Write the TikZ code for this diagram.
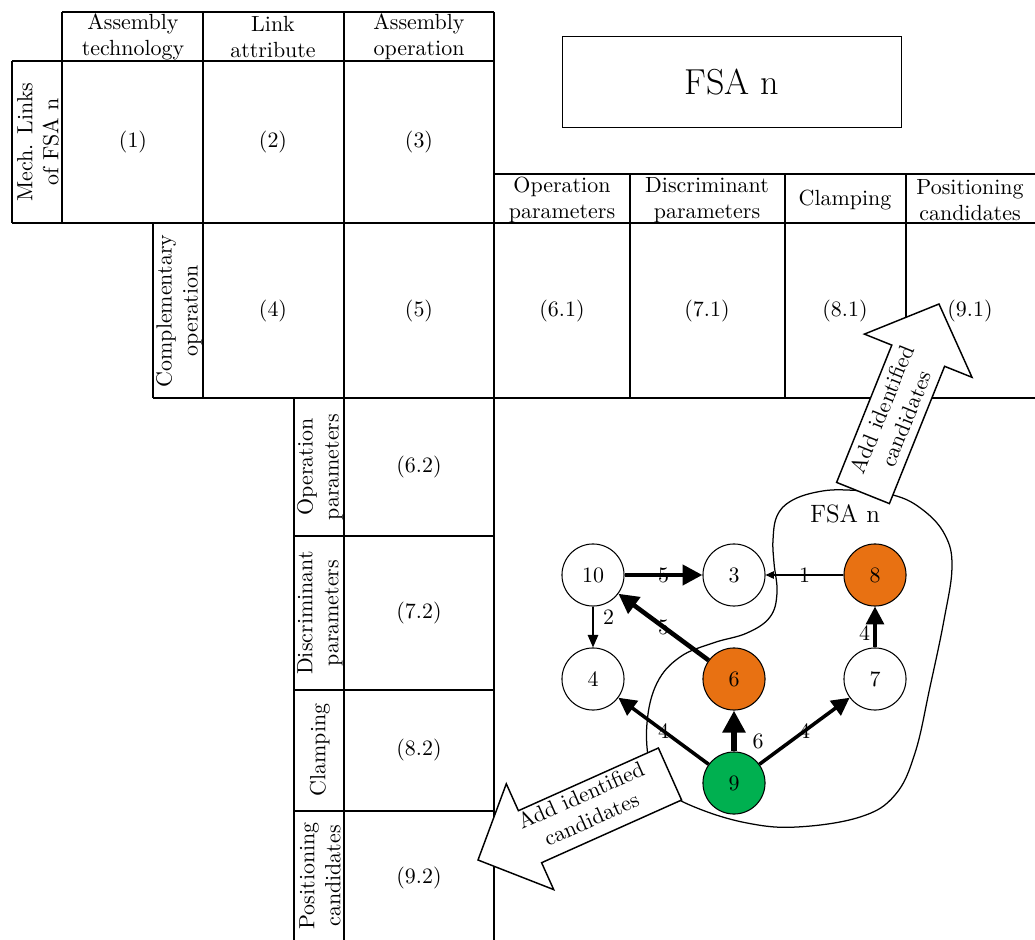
\documentclass[tikz,border=0pt]{standalone}
\usetikzlibrary{arrows.meta}
\definecolor{fsaorange}{RGB}{232,113,18}
\definecolor{fsagreen}{RGB}{0,176,80}
\begin{document}
\begin{tikzpicture}[x=0.4785pt, y=-0.4785pt,
  every node/.style={font=\fontsize{10.5}{12.4}\selectfont},
  tline/.style={line width=0.7pt},
  cell/.style={align=center, inner sep=0pt},
  vcell/.style={cell, rotate=90},
  gnode/.style={circle, draw, line width=0.5pt, minimum size=29.7pt, inner sep=0pt},
  onode/.style={gnode, fill=fsaorange},
  grnode/.style={gnode, fill=fsagreen},
  elabel/.style={inner sep=1pt},
  wone/.style={line width=0.5pt, -{Triangle[length=4pt,width=3.6pt]}},
  wtwo/.style={line width=0.7pt, -{Triangle[length=6pt,width=5pt]}},
  wfour/.style={line width=1.7pt, -{Triangle[length=8.5pt,width=8.5pt]}},
  wfive/.style={line width=2.2pt, -{Triangle[length=9.5pt,width=9.5pt]}},
  wsix/.style={line width=2.8pt, -{Triangle[length=10.5pt,width=10.5pt]}},
  bigarrow/.style={draw, fill=white, line width=0.7pt, line join=miter},
  blob/.style={line width=0.6pt}
]
\useasboundingbox (0,0) rectangle (1035,940);

% ---- table lines ----
\draw[tline] (62,12) -- (494,12);
\draw[tline] (12,61) -- (494,61);
\draw[tline] (494,174) -- (1035,174);
\draw[tline] (12,223) -- (1035,223);
\draw[tline] (153,398) -- (1035,398);
\draw[tline] (294,536) -- (494,536);
\draw[tline] (294,690) -- (494,690);
\draw[tline] (294,811) -- (494,811);
\draw[tline] (12,61) -- (12,223);
\draw[tline] (62,12) -- (62,223);
\draw[tline] (203,12) -- (203,398);
\draw[tline] (344,12) -- (344,940);
\draw[tline] (494,12) -- (494,940);
\draw[tline] (153,223) -- (153,398);
\draw[tline] (294,398) -- (294,940);
\draw[tline] (630,174) -- (630,398);
\draw[tline] (785,174) -- (785,398);
\draw[tline] (906,174) -- (906,398);

% ---- header texts ----
\node[cell] (hAT) at (133,37) {Assembly\\technology};
\node[cell] (hLA) at (273,37) {Link\\attribute};
\node[cell] (hAO) at (419,37) {Assembly\\operation};
\node[vcell] (hML) at (38,142) {Mech. Links\\of FSA n};
\node[cell] (c1) at (133,142) {(1)};
\node[cell] (c2) at (273,142) {(2)};
\node[cell] (c3) at (419,142) {(3)};

\node[draw, line width=0.7pt, minimum width=162pt, minimum height=43.5pt, font=\LARGE] (fsabox) at (732,82) {FSA n};

\node[cell] (hOP) at (562,200) {Operation\\parameters};
\node[cell] (hDP) at (707,200) {Discriminant\\parameters};
\node[cell] (hCL) at (845,200) {Clamping};
\node[cell] (hPC) at (970,200) {Positioning\\candidates};

\node[vcell] (hCO) at (179,311) {Complementary\\operation};
\node[cell] (c4) at (273,311) {(4)};
\node[cell] (c5) at (419,311) {(5)};
\node[cell] (c61) at (562,311) {(6.1)};
\node[cell] (c71) at (707,311) {(7.1)};
\node[cell] (c81) at (845,311) {(8.1)};
\node[cell] (c91) at (970,311) {(9.1)};

\node[vcell] (vOP) at (320,467) {Operation\\parameters};
\node[cell] (c62) at (419,467) {(6.2)};
\node[vcell] (vDP) at (320,613) {Discriminant\\parameters};
\node[cell] (c72) at (419,613) {(7.2)};
\node[vcell] (vCL) at (320,750) {Clamping};
\node[cell] (c82) at (419,750) {(8.2)};
\node[vcell] (vPC) at (320,876) {Positioning\\candidates};
\node[cell] (c92) at (419,878) {(9.2)};

% ---- FSA blob ----
\draw[blob] plot[smooth cycle, tension=0.65] coordinates {
 (773,540) (777,516) (791,501) (817,492) (847,490) (893,495) (923,510)
 (945,535) (952,567) (944,620) (930,687) (915,753) (895,795) (860,817)
 (797,827) (747,823) (697,808) (665,790) (650,765) (647,723) (657,683)
 (680,657) (713,643) (747,633) (770,617) (777,593) (774,563)};
\node[font=\large] (blobname) at (845,514) {FSA n};

% ---- graph ----
\node[gnode] (n10) at (593,575) {10};
\node[gnode] (n3) at (734,575) {3};
\node[onode] (n8) at (875,575) {8};
\node[gnode] (n4) at (593,679) {4};
\node[onode] (n6) at (734,679) {6};
\node[gnode] (n7) at (875,679) {7};
\node[grnode] (n9) at (734,783) {9};

\draw[wfive] (n10) -- node[elabel] {5} (n3);
\draw[wone] (n8) -- node[elabel] {1} (n3);
\draw[wtwo] (n10) -- node[elabel, right, pos=0.27, xshift=3.5pt] {2} (n4);
\draw[wfive] (n6) -- node[elabel] {5} (n10);
\draw[wfour] (n9) -- node[elabel] {4} (n4);
\draw[wsix] (n9) -- node[elabel, right, pos=0.25, xshift=6.5pt] {6} (n6);
\draw[wfour] (n9) -- node[elabel] {4} (n7);
\draw[wfour] (n7) -- node[elabel, left, pos=0.36, xshift=-0.5pt] {4} (n8);

% ---- big arrows ----
\draw[bigarrow] (836.6,482.4) -- (891.8,345.1) -- (864.4,334.1) -- (939,304)
  -- (972.0,377.3) -- (944.6,366.3) -- (889.4,503.6) -- cycle;
\node[cell, rotate=68] (uptext) at (894,414) {Add identified\\candidates};

\draw[bigarrow] (658.4,748.0) -- (518.4,810.7) -- (506.3,783.8) -- (478,860)
  -- (553.7,889.6) -- (541.6,862.7) -- (681.6,800.0) -- cycle;
\node[cell, rotate=24] (lowtext) at (586,807) {Add identified\\candidates};
\end{tikzpicture}
\end{document}
